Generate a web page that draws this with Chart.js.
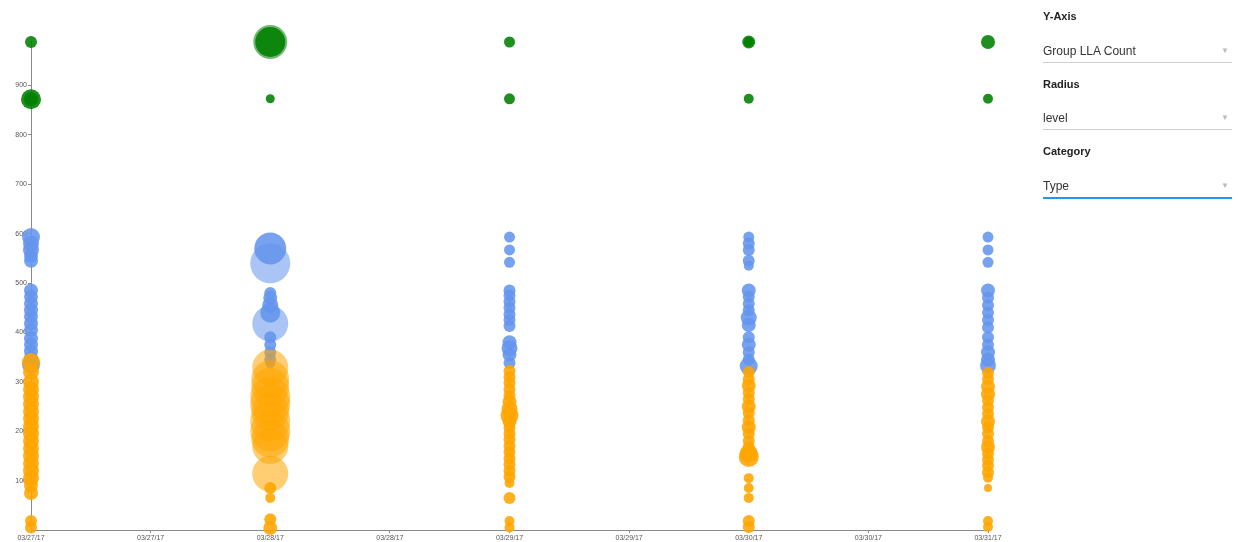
<!DOCTYPE html>
<html>
<head>
<meta charset="utf-8">
<script src="https://cdn.jsdelivr.net/npm/chart.js@4.4.1/dist/chart.umd.min.js"></script>
<style>
  body { margin: 0; background: #fff; font-family: Arial, "Liberation Sans", sans-serif; }
  #wrap { position: relative; width: 1238px; height: 542px; }
  #bubbleChart { position: absolute; left: 0; top: 0; }
  .panel { position: absolute; left: 1043px; top: 0; width: 189px; }
  .lbl { position: absolute; left: 0; font-size: 11px; font-weight: bold; color: #222; }
  .sel { position: absolute; left: 0; width: 189px; height: 22px; font-size: 12px; color: #333;
         border-bottom: 1px solid #d0d0d0; line-height: 22px; }
  .sel span { position: absolute; right: 3px; top: 0; font-size: 8px; color: #bbb; }
  .sel.active { border-bottom: 2px solid #2196f3; }
</style>
</head>
<body>
<div id="wrap">
  <canvas id="bubbleChart" width="1238" height="542"></canvas>
  <div class="panel">
    <div class="lbl" style="top:10px">Y-Axis</div>
    <div class="sel" style="top:40px">Group LLA Count<span>&#9660;</span></div>
    <div class="lbl" style="top:78px">Radius</div>
    <div class="sel" style="top:107px">level<span>&#9660;</span></div>
    <div class="lbl" style="top:145px">Category</div>
    <div class="sel active" style="top:175px">Type<span>&#9660;</span></div>
  </div>
</div>
<script>
// tick labels (one tick every half day)
var xTicks = [0, 0.5, 1, 1.5, 2, 2.5, 3, 3.5, 4];
var xTickLabels = ['03/27/17', '03/27/17', '03/28/17', '03/28/17', '03/29/17', '03/29/17', '03/30/17', '03/30/17', '03/31/17'];
var yTicks = [100, 200, 300, 400, 500, 600, 700, 800, 900];

// [day, group LLA count, level]
var greenPoints = [
    [0, 988, 6], [0, 872, 10], [0, 872, 7],
    [1, 988, 17], [1, 988, 15], [1, 873, 4.5],
    [2, 988, 5.5], [2, 873, 5.5],
    [3, 988, 6.5], [3, 988, 5], [3, 873, 5],
    [4, 988, 7], [4, 873, 5]
];
var bluePoints = [
    [0, 593, 9], [0, 580, 8], [0, 567, 8], [0, 555, 7], [0, 545, 7],
    [0, 485, 7], [0, 472, 7], [0, 458, 7], [0, 445, 7], [0, 432, 7], [0, 418, 7], [0, 405, 7],
    [0, 388, 7], [0, 375, 7], [0, 362, 7], [0, 348, 7], [0, 335, 9],
    [1, 570, 16], [1, 540, 20],
    [1, 480, 6], [1, 470, 7], [1, 455, 8], [1, 440, 10], [1, 418, 18],
    [1, 390, 6], [1, 375, 6], [1, 360, 6], [1, 345, 6], [1, 337, 5],
    [2, 593, 5.5], [2, 567, 5.5], [2, 542, 5.5],
    [2, 485, 6], [2, 475, 6], [2, 462, 6], [2, 450, 6], [2, 437, 6], [2, 425, 6], [2, 413, 6],
    [2, 380, 7], [2, 368, 8], [2, 355, 7], [2, 338, 6],
    [3, 593, 5.5], [3, 580, 6], [3, 567, 6], [3, 545, 6], [3, 535, 5],
    [3, 485, 7], [3, 472, 6], [3, 458, 6], [3, 445, 6], [3, 430, 8], [3, 415, 7],
    [3, 390, 6], [3, 375, 7], [3, 360, 6], [3, 345, 6], [3, 332, 9],
    [4, 593, 5.5], [4, 567, 5.5], [4, 542, 5.5],
    [4, 485, 7], [4, 470, 6], [4, 455, 6], [4, 440, 6], [4, 425, 6], [4, 410, 6],
    [4, 390, 6], [4, 375, 6], [4, 360, 7], [4, 345, 7], [4, 333, 8]
];
var orangePoints = [
    [0, 340, 9], [0, 320, 8], [0, 300, 8], [0, 285, 8], [0, 270, 8], [0, 255, 8], [0, 240, 8],
    [0, 225, 8], [0, 210, 8], [0, 195, 8], [0, 180, 8], [0, 165, 8], [0, 150, 8], [0, 135, 8],
    [0, 120, 8], [0, 105, 8], [0, 90, 7], [0, 75, 7], [0, 18, 6], [0, 5, 6],
    [1, 329, 18], [1, 305, 19], [1, 290, 19], [1, 270, 20], [1, 255, 20], [1, 240, 19],
    [1, 220, 20], [1, 200, 20], [1, 185, 19], [1, 170, 18], [1, 114, 18],
    [1, 85, 6], [1, 65, 5], [1, 22, 6], [1, 4, 7],
    [2, 322, 6], [2, 310, 6], [2, 298, 6], [2, 285, 6], [2, 272, 6], [2, 260, 7], [2, 245, 8],
    [2, 232, 9], [2, 220, 7], [2, 207, 6], [2, 195, 6], [2, 183, 6], [2, 170, 6], [2, 158, 6],
    [2, 145, 6], [2, 133, 6], [2, 120, 6], [2, 108, 6], [2, 95, 5], [2, 65, 6], [2, 18, 5], [2, 5, 5],
    [3, 320, 6], [3, 305, 6], [3, 292, 7], [3, 278, 6], [3, 265, 6], [3, 250, 7], [3, 237, 6],
    [3, 222, 6], [3, 208, 7], [3, 195, 6], [3, 180, 6], [3, 168, 6], [3, 155, 9], [3, 148, 10],
    [3, 105, 5], [3, 85, 5], [3, 65, 5], [3, 18, 6], [3, 6, 6],
    [4, 318, 6], [4, 305, 6], [4, 290, 7], [4, 275, 7], [4, 262, 6], [4, 248, 6], [4, 235, 6],
    [4, 220, 7], [4, 208, 6], [4, 195, 6], [4, 180, 6], [4, 168, 7], [4, 155, 6], [4, 142, 6],
    [4, 130, 6], [4, 117, 6], [4, 106, 5], [4, 85, 4], [4, 18, 5], [4, 6, 5]
];

function toBubbles(list) {
    return list.map(function (p) { return { x: p[0], y: p[1], r: p[2] }; });
}

// the biggest bubbles are drawn fainter than the rest
function fill(rgb) {
    return function (c) {
        var r = c.raw ? c.raw.r : 0;
        return 'rgba(' + rgb + ',' + (r >= 17 ? 0.55 : 0.88) + ')';
    };
}

var axisColor = '#8a8a8a';
var tickFont = { family: 'Arial', size: 7 };

var ctx = document.getElementById('bubbleChart').getContext('2d');
var bubbleChart = new Chart(ctx, {
    type: 'bubble',
    data: {
        datasets: [{
            label: 'Type C',
            data: toBubbles(orangePoints),
            backgroundColor: fill('255,165,0'),
            borderWidth: 0,
            clip: false
        }, {
            label: 'Type B',
            data: toBubbles(bluePoints),
            backgroundColor: fill('100,149,237'),
            borderWidth: 0,
            clip: false
        }, {
            label: 'Type A',
            data: toBubbles(greenPoints),
            backgroundColor: fill('0,128,0'),
            borderWidth: 0,
            clip: false
        }]
    },
    options: {
        responsive: false,
        animation: false,
        events: [],
        layout: { autoPadding: false, padding: { top: 41, right: 250, bottom: 0, left: 0 } },
        plugins: { legend: { display: false }, tooltip: { enabled: false } },
        scales: {
            x: {
                type: 'linear',
                min: 0,
                max: 4,
                afterBuildTicks: function (scale) {
                    scale.ticks = xTicks.map(function (v) { return { value: v }; });
                },
                afterFit: function (scale) { scale.height = 12; },
                ticks: {
                    autoSkip: false,
                    maxRotation: 0,
                    padding: 1,
                    color: '#555',
                    font: tickFont,
                    callback: function (value, index) { return xTickLabels[index]; }
                },
                grid: { drawOnChartArea: false, tickLength: 3, color: axisColor },
                border: { color: axisColor, width: 1 }
            },
            y: {
                min: 0,
                max: 990,
                afterBuildTicks: function (scale) {
                    scale.ticks = yTicks.map(function (v) { return { value: v }; });
                },
                afterFit: function (scale) { scale.width = 31; },
                ticks: {
                    padding: 1,
                    color: '#555',
                    font: tickFont
                },
                grid: { drawOnChartArea: false, tickLength: 3, color: axisColor },
                border: { color: axisColor, width: 1 }
            }
        }
    }
});
</script>
</body>
</html>
